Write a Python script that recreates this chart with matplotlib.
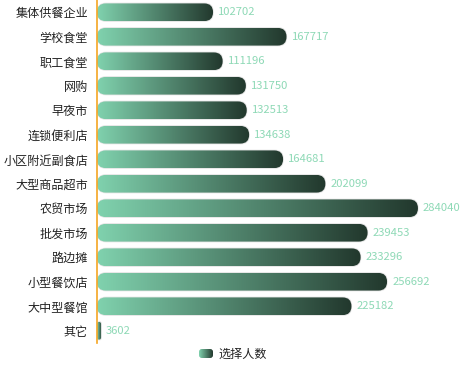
import numpy as np
import matplotlib
matplotlib.use("Agg")
import matplotlib.pyplot as plt
from matplotlib.colors import LinearSegmentedColormap
from matplotlib.patches import FancyBboxPatch

plt.rcParams['font.family'] = ['Noto Sans CJK SC', 'DejaVu Sans']

categories = ['集体供餐企业', '学校食堂', '职工食堂', '网购', '早夜市', '连锁便利店',
              '小区附近副食店', '大型商品超市', '农贸市场', '批发市场', '路边摊',
              '小型餐饮店', '大中型餐馆', '其它']
values = [102702, 167717, 111196, 131750, 132513, 134638, 164681,
          202099, 284040, 239453, 233296, 256692, 225182, 3602]
series_name = '选择人数'

light = '#80d2ae'
dark = '#22382d'
cmap = LinearSegmentedColormap.from_list('bar', [light, dark])

W, H = 465, 371
fig = plt.figure(figsize=(W / 100, H / 100), dpi=100)
ax_l, ax_r, ax_t, ax_b = 97, 436, 0, 343
ax = fig.add_axes([ax_l / W, 1 - ax_b / H, (ax_r - ax_l) / W, (ax_b - ax_t) / H])

xmax = 300000
n = len(categories)
ax.set_xlim(0, xmax)
ax.set_ylim(n - 0.5, -0.5)

# units per pixel, used for rounding the bar ends
ux = xmax / (ax_r - ax_l)
uy = n / (ax_b - ax_t)
aspect = uy / ux

bar_h = 0.72
grad = np.linspace(0, 1, 256).reshape(1, -1)

for i, v in enumerate(values):
    r_px = min(bar_h / uy / 2, v / ux / 2)
    r = r_px * ux
    y0 = i - bar_h / 2
    # faint shadow around the bar
    sh = FancyBboxPatch((0, y0 - 0.03), v + 0.6 * ux, bar_h + 0.06,
                        boxstyle=f"round,pad=0,rounding_size={r}",
                        mutation_aspect=aspect, facecolor='#d8d8d8',
                        edgecolor='none', alpha=0.7, zorder=1)
    ax.add_patch(sh)
    patch = FancyBboxPatch((0, y0), v, bar_h,
                           boxstyle=f"round,pad=0,rounding_size={r}",
                           mutation_aspect=aspect, facecolor='none',
                           edgecolor='none', zorder=2)
    ax.add_patch(patch)
    im = ax.imshow(grad, cmap=cmap, aspect='auto', extent=(0, v, y0 + bar_h, y0),
                   interpolation='bilinear', zorder=2)
    im.set_clip_path(patch)
    ax.text(v + 5 * ux, i, f'{v}', va='center', ha='left', fontsize=8.1,
            color='#8ed9b6', zorder=3)

ax.set_xlim(0, xmax)
ax.set_ylim(n - 0.5, -0.5)
ax.set_yticks(range(n))
ax.set_yticklabels(categories, fontsize=8.7, color='#222222')
ax.set_xticks([])
ax.tick_params(axis='y', length=0, pad=6.5)
for s in ['top', 'right', 'bottom']:
    ax.spines[s].set_visible(False)
ax.spines['left'].set_color('#f5a623')
ax.spines['left'].set_linewidth(1.2)

# legend
lax = fig.add_axes([199 / W, 1 - 358 / H, 14 / W, 9 / H])
lax.set_xlim(0, 1)
lax.set_ylim(0, 1)
icon = FancyBboxPatch((0, 0), 1, 1, boxstyle="round,pad=0,rounding_size=0.2",
                      mutation_aspect=14 / 9, facecolor='none', edgecolor='none')
lax.add_patch(icon)
lim = lax.imshow(grad, cmap=cmap, aspect='auto', extent=(0, 1, 0, 1))
lim.set_clip_path(icon)
lax.axis('off')
fig.text(218 / W, 1 - 354 / H, series_name, fontsize=8.7, color='#222222',
         va='center', ha='left')

fig.savefig('out.png', dpi=100)
